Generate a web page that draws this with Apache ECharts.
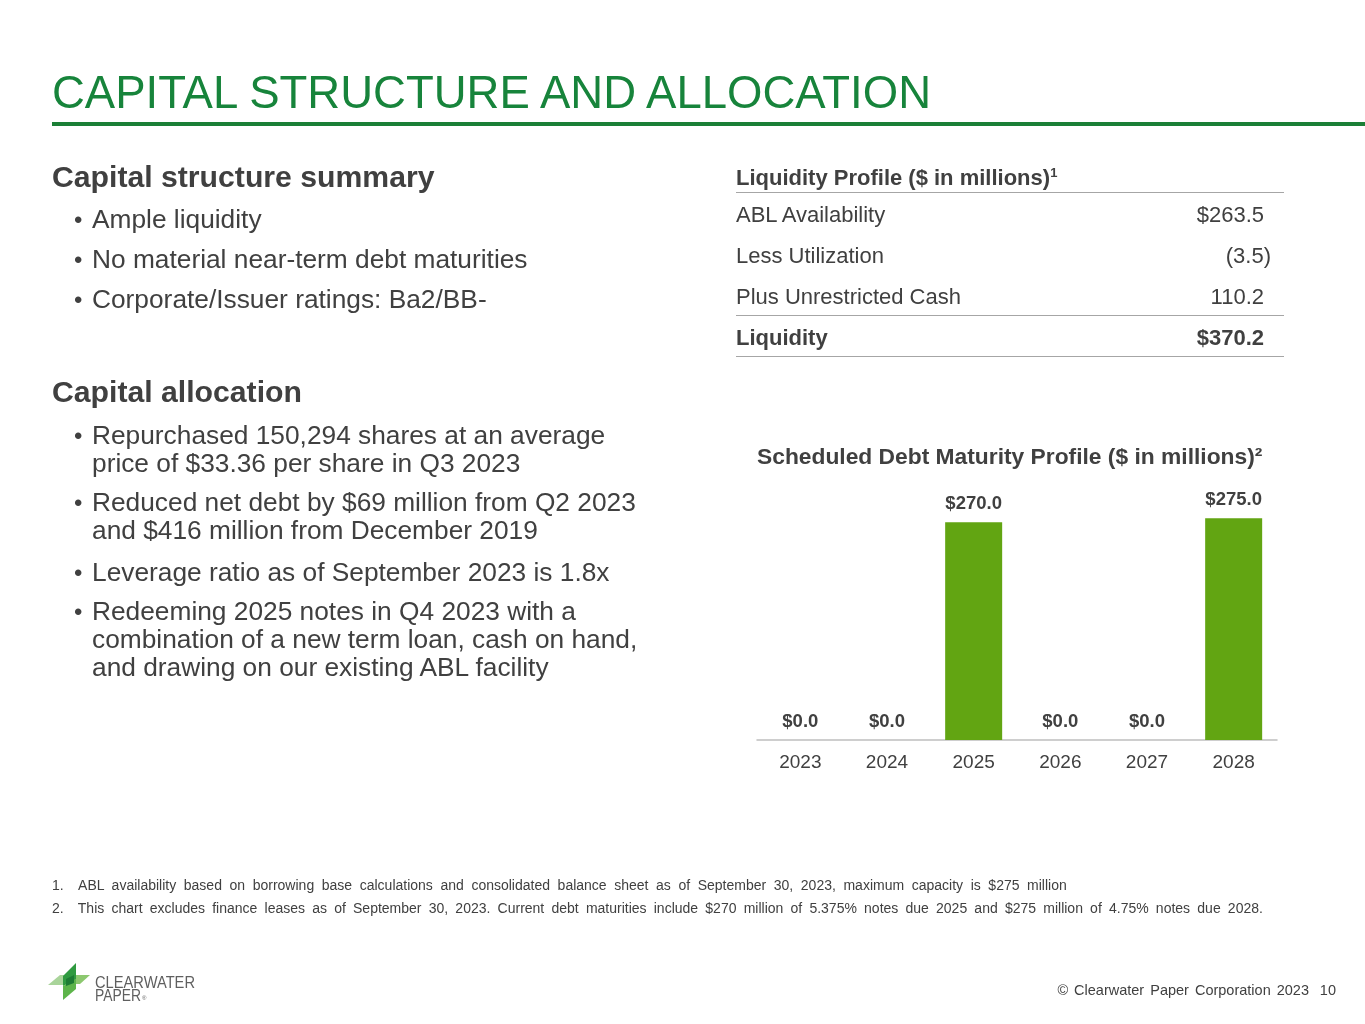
<!DOCTYPE html>
<html>
<head>
<meta charset="utf-8">
<title>Capital Structure and Allocation</title>
<script src="https://cdn.jsdelivr.net/npm/echarts@6/dist/echarts.min.js"></script>
<style>
  html, body { margin: 0; padding: 0; background: #fff; }
  body { width: 1365px; height: 1024px; position: relative; overflow: hidden;
         font-family: "Liberation Sans", Arial, sans-serif; color: #404040; }
  #chart { position: absolute; left: 0; top: 0; width: 1365px; height: 1024px; z-index: 0; }
  .abs { position: absolute; white-space: nowrap; z-index: 1; }
  .title { left: 52px; top: 66px; font-size: 45.5px; line-height: 54px; color: #17843b; }
  .rule { position: absolute; left: 52px; top: 122px; width: 1313px; height: 4px; background: #1b7f36; }
  .head { left: 52px; font-size: 30.2px; line-height: 32px; font-weight: bold; }
  .bul { left: 92px; font-size: 26.3px; line-height: 28px; }
  .bul:before { content: "\2022"; position: absolute; left: -18px; top: 1px; font-size: 24px; }
  .tbl { left: 736px; width: 548px; font-size: 22px; }
  .row { position: absolute; left: 0; width: 548px; height: 41px; line-height: 41px; }
  .row .v { position: absolute; right: 20px; top: 0; }
  .line { position: absolute; left: 0; width: 548px; height: 0; border-top: 1.5px solid #a6a6a6; }
  .fn { left: 52px; font-size: 14px; line-height: 18px; }
  .foot { right: 29px; top: 980px; font-size: 14.5px; line-height: 20px; word-spacing: 2px; }
</style>
</head>
<body>
<div id="chart"></div>

<div class="abs title">CAPITAL STRUCTURE AND ALLOCATION</div>
<div class="rule"></div>

<div class="abs head" style="top:161px">Capital structure summary</div>
<div class="abs bul" style="top:205px">Ample liquidity</div>
<div class="abs bul" style="top:245px">No material near-term debt maturities</div>
<div class="abs bul" style="top:285px">Corporate/Issuer ratings: Ba2/BB-</div>

<div class="abs head" style="top:376px">Capital allocation</div>
<div class="abs bul" style="top:421px">Repurchased 150,294 shares at an average<br>price of $33.36 per share in Q3 2023</div>
<div class="abs bul" style="top:488px">Reduced net debt by $69 million from Q2 2023<br>and $416 million from December 2019</div>
<div class="abs bul" style="top:558px">Leverage ratio as of September 2023 is 1.8x</div>
<div class="abs bul" style="top:597px">Redeeming 2025 notes in Q4 2023 with a<br>combination of a new term loan, cash on hand,<br>and drawing on our existing ABL facility</div>

<div class="abs tbl" id="tbl" style="top:152px"></div>

<div class="abs fn" style="top:876px; word-spacing:3.7px">1.&nbsp; ABL availability based on borrowing base calculations and consolidated balance sheet as of September 30, 2023, maximum capacity is $275 million</div>
<div class="abs fn" style="top:899px; word-spacing:3.3px">2.&nbsp; This chart excludes finance leases as of September 30, 2023. Current debt maturities include $270 million of 5.375% notes due 2025 and $275 million of 4.75% notes due 2028.</div>

<svg class="abs" style="left:44px; top:958px" width="160" height="46" viewBox="44 958 160 46">
  <polygon points="48,985 60,975 70,975 70,985" fill="#a9d49a"/>
  <polygon points="70,975 90,975 80,984 70,984" fill="#8cc86f"/>
  <polygon points="63,976 76,963 76,979 63,986" fill="#2f9a40"/>
  <polygon points="63,986 76,979 76,989 63,1000" fill="#5db44a"/>
  <polygon points="66,979 74,975 74,983 66,986" fill="#1d7c33"/>
  <text x="95" y="987.5" font-family="Liberation Sans, Arial, sans-serif" font-size="16.5" fill="#5f5f5f" textLength="100" lengthAdjust="spacingAndGlyphs">CLEARWATER</text>
  <text x="95" y="1000.5" font-family="Liberation Sans, Arial, sans-serif" font-size="16.5" fill="#5f5f5f" textLength="46" lengthAdjust="spacingAndGlyphs">PAPER</text>
  <text x="142" y="1000" font-family="Liberation Sans, Arial, sans-serif" font-size="6" fill="#5f5f5f">®</text>
</svg>

<div class="abs foot" style="right:56px">© Clearwater Paper Corporation 2023</div>
<div class="abs foot">10</div>

<script>
// 数据
var years = ['2023', '2024', '2025', '2026', '2027', '2028'];
var maturities = [0, 0, 270, 0, 0, 275];
var liqLabels = ['ABL Availability', 'Less Utilization', 'Plus Unrestricted Cash'];
var liqValues = ['$263.5', '(3.5)', '110.2'];
var liqTotal = '$370.2';

// 流动性表格
(function () {
  var t = document.getElementById('tbl');
  var html = '<div class="row" style="top:0;font-weight:bold">Liquidity Profile ($ in millions)<sup style="font-size:13px">1</sup></div>';
  html += '<div class="line" style="top:40px"></div>';
  for (var i = 0; i < liqLabels.length; i++) {
    var v = liqValues[i];
    var style = v.charAt(0) === '(' ? ' style="right:13px"' : '';
    html += '<div class="row" style="top:' + (42 + i * 41) + 'px">' + liqLabels[i] +
      '<span class="v"' + style + '>' + v + '</span></div>';
  }
  html += '<div class="line" style="top:163px"></div>';
  html += '<div class="row" style="top:165px;font-weight:bold">Liquidity<span class="v">' + liqTotal + '</span></div>';
  html += '<div class="line" style="top:204px"></div>';
  t.innerHTML = html;
})();

// 柱状图模块
(function () {
  var myChart = echarts.init(document.getElementById('chart'));
  var font = '"Liberation Sans", Arial, sans-serif';
  var option = {
    animation: false,
    title: {
      text: 'Scheduled Debt Maturity Profile ($ in millions)²',
      left: 752,
      top: 441,
      textStyle: { fontFamily: font, fontSize: 22.8, fontWeight: 'bold', color: '#404040' }
    },
    grid: { left: 757, width: 520, top: 498, height: 242 },
    xAxis: {
      type: 'category',
      data: years,
      axisTick: { show: false },
      axisLine: { lineStyle: { color: '#bfbfbf', width: 1.5 } },
      axisLabel: { color: '#404040', fontSize: 19, fontFamily: font, margin: 13 }
    },
    yAxis: {
      type: 'value',
      min: 0,
      max: 300,
      show: false,
      splitLine: { show: false }
    },
    series: [{
      type: 'bar',
      data: maturities,
      barWidth: 57,
      itemStyle: { color: '#62a512' },
      label: {
        show: true,
        position: 'top',
        distance: 9,
        fontFamily: font,
        fontSize: 18.5,
        fontWeight: 'bold',
        color: '#404040',
        formatter: function (p) { return '$' + p.value.toFixed(1); }
      }
    }]
  };
  myChart.setOption(option);
})();
</script>
</body>
</html>
